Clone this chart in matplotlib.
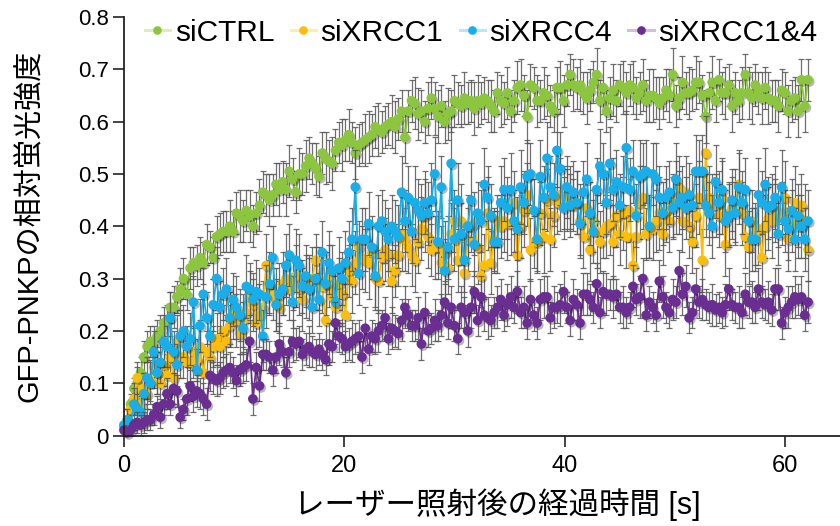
import numpy as np
import matplotlib
matplotlib.use("Agg")
import matplotlib.pyplot as plt
import matplotlib.patheffects as pe
from matplotlib.lines import Line2D

# ---- data: relative GFP-PNKP fluorescence after laser micro-irradiation ----
frame_interval = 0.3  # seconds between frames

ctrl = [
    0.015, 0.03, 0.06, 0.09, 0.10, 0.12, 0.15, 0.17, 0.18, 0.18,
    0.19, 0.20, 0.215, 0.22, 0.245, 0.245, 0.265, 0.28, 0.30, 0.27,
    0.32, 0.33, 0.325, 0.34, 0.33, 0.365, 0.36, 0.34, 0.38, 0.385,
    0.39, 0.39, 0.40, 0.39, 0.425, 0.42, 0.41, 0.43, 0.42, 0.40,
    0.425, 0.44, 0.465, 0.46, 0.45, 0.46, 0.48, 0.47, 0.485, 0.47,
    0.505, 0.49, 0.465, 0.50, 0.50, 0.515, 0.53, 0.52, 0.51, 0.495,
    0.54, 0.53, 0.525, 0.52, 0.545, 0.56, 0.555, 0.565, 0.575, 0.56,
    0.54, 0.555, 0.56, 0.565, 0.57, 0.575, 0.59, 0.585, 0.58, 0.59,
    0.595, 0.60, 0.59, 0.605, 0.62, 0.57, 0.62, 0.64, 0.635, 0.615,
    0.62, 0.60, 0.625, 0.645, 0.625, 0.61, 0.63, 0.60, 0.615, 0.62,
    0.64, 0.635, 0.63, 0.645, 0.635, 0.64, 0.625, 0.64, 0.635, 0.645,
    0.64, 0.63, 0.62, 0.655, 0.64, 0.635, 0.655, 0.62, 0.64, 0.665,
    0.67, 0.65, 0.61, 0.67, 0.665, 0.64, 0.64, 0.655, 0.65, 0.63,
    0.62, 0.665, 0.665, 0.64, 0.67, 0.69, 0.67, 0.665, 0.67, 0.655,
    0.645, 0.66, 0.675, 0.69, 0.64, 0.665, 0.62, 0.645, 0.66, 0.64,
    0.67, 0.665, 0.655, 0.67, 0.665, 0.645, 0.655, 0.67, 0.64, 0.65,
    0.65, 0.645, 0.635, 0.645, 0.66, 0.65, 0.69, 0.63, 0.645, 0.675,
    0.655, 0.655, 0.66, 0.675, 0.675, 0.65, 0.61, 0.655, 0.675, 0.64,
    0.68, 0.655, 0.655, 0.67, 0.63, 0.655, 0.64, 0.655, 0.69, 0.655,
    0.645, 0.67, 0.655, 0.645, 0.665, 0.645, 0.64, 0.64, 0.63, 0.66,
    0.655, 0.62, 0.64, 0.645, 0.62, 0.68, 0.63, 0.68,
]

xrcc1 = [
    0.02, 0.03, 0.05, 0.07, 0.11, 0.06, 0.09, 0.08, 0.105, 0.13,
    0.12, 0.10, 0.135, 0.115, 0.15, 0.11, 0.18, 0.15, 0.15, 0.14,
    0.14, 0.16, 0.145, 0.17, 0.12, 0.16, 0.15, 0.17, 0.185, 0.17,
    0.20, 0.18, 0.21, 0.235, 0.22, 0.195, 0.22, 0.235, 0.265, 0.25,
    0.215, 0.23, 0.245, 0.325, 0.285, 0.27, 0.26, 0.245, 0.29, 0.30,
    0.28, 0.29, 0.305, 0.28, 0.26, 0.285, 0.295, 0.30, 0.335, 0.30,
    0.285, 0.22, 0.305, 0.265, 0.245, 0.29, 0.27, 0.23, 0.315, 0.295,
    0.33, 0.36, 0.34, 0.335, 0.33, 0.35, 0.30, 0.295, 0.34, 0.355,
    0.345, 0.295, 0.315, 0.345, 0.385, 0.375, 0.36, 0.345, 0.335, 0.37,
    0.395, 0.42, 0.38, 0.355, 0.36, 0.36, 0.33, 0.35, 0.32, 0.385,
    0.41, 0.335, 0.41, 0.31, 0.375, 0.40, 0.405, 0.36, 0.305, 0.325,
    0.425, 0.33, 0.375, 0.41, 0.40, 0.41, 0.405, 0.405, 0.445, 0.345,
    0.40, 0.43, 0.46, 0.355, 0.37, 0.37, 0.425, 0.38, 0.45, 0.375,
    0.42, 0.445, 0.46, 0.455, 0.45, 0.455, 0.44, 0.445, 0.41, 0.38,
    0.435, 0.355, 0.41, 0.39, 0.37, 0.39, 0.40, 0.405, 0.37, 0.42,
    0.385, 0.425, 0.38, 0.43, 0.325, 0.38, 0.445, 0.455, 0.385, 0.40,
    0.395, 0.41, 0.425, 0.385, 0.43, 0.41, 0.44, 0.455, 0.475, 0.41,
    0.465, 0.40, 0.37, 0.42, 0.455, 0.335, 0.54, 0.455, 0.44, 0.44,
    0.42, 0.455, 0.365, 0.425, 0.435, 0.44, 0.48, 0.425, 0.38, 0.36,
    0.41, 0.385, 0.395, 0.34, 0.40, 0.415, 0.41, 0.43, 0.42, 0.425,
    0.455, 0.375, 0.41, 0.445, 0.40, 0.44, 0.41, 0.355,
]

xrcc4 = [
    0.02, 0.03, 0.02, 0.06, 0.05, 0.045, 0.08, 0.11, 0.10, 0.16,
    0.12, 0.14, 0.18, 0.17, 0.225, 0.16, 0.135, 0.19, 0.20, 0.17,
    0.185, 0.255, 0.125, 0.21, 0.27, 0.225, 0.19, 0.25, 0.30, 0.245,
    0.27, 0.28, 0.225, 0.26, 0.245, 0.23, 0.205, 0.285, 0.28, 0.26,
    0.275, 0.27, 0.19, 0.265, 0.29, 0.34, 0.25, 0.27, 0.28, 0.325,
    0.345, 0.255, 0.335, 0.325, 0.285, 0.305, 0.28, 0.245, 0.30, 0.26,
    0.35, 0.29, 0.33, 0.315, 0.255, 0.32, 0.30, 0.33, 0.35, 0.375,
    0.475, 0.31, 0.375, 0.375, 0.405, 0.36, 0.305, 0.40, 0.41, 0.39,
    0.375, 0.40, 0.39, 0.38, 0.465, 0.41, 0.455, 0.39, 0.445, 0.43,
    0.42, 0.445, 0.425, 0.45, 0.50, 0.37, 0.475, 0.315, 0.36, 0.52,
    0.375, 0.45, 0.385, 0.335, 0.40, 0.45, 0.365, 0.425, 0.41, 0.48,
    0.455, 0.42, 0.37, 0.37, 0.445, 0.47, 0.435, 0.47, 0.41, 0.395,
    0.475, 0.445, 0.495, 0.50, 0.43, 0.375, 0.495, 0.455, 0.53, 0.475,
    0.46, 0.545, 0.51, 0.435, 0.475, 0.44, 0.465, 0.445, 0.405, 0.465,
    0.49, 0.425, 0.39, 0.47, 0.515, 0.50, 0.445, 0.52, 0.47, 0.485,
    0.44, 0.475, 0.55, 0.47, 0.505, 0.42, 0.495, 0.50, 0.505, 0.40,
    0.50, 0.49, 0.455, 0.425, 0.455, 0.465, 0.435, 0.49, 0.445, 0.455,
    0.435, 0.46, 0.44, 0.505, 0.505, 0.505, 0.44, 0.425, 0.40, 0.485,
    0.445, 0.47, 0.41, 0.42, 0.45, 0.425, 0.475, 0.445, 0.47, 0.41,
    0.375, 0.375, 0.46, 0.445, 0.48, 0.435, 0.44, 0.455, 0.385, 0.475,
    0.41, 0.395, 0.43, 0.375, 0.42, 0.40, 0.375, 0.41,
]

xrcc1_4 = [
    0.01, 0.005, 0.01, 0.02, 0.025, 0.02, 0.025, 0.03, 0.03, 0.04,
    0.055, 0.035, 0.06, 0.08, 0.06, 0.09, 0.085, 0.035, 0.05, 0.07,
    0.095, 0.075, 0.085, 0.08, 0.07, 0.06, 0.115, 0.11, 0.105, 0.11,
    0.12, 0.125, 0.13, 0.12, 0.105, 0.125, 0.13, 0.135, 0.18, 0.07,
    0.13, 0.095, 0.155, 0.155, 0.15, 0.125, 0.15, 0.175, 0.16, 0.12,
    0.16, 0.18, 0.175, 0.18, 0.155, 0.165, 0.17, 0.16, 0.155, 0.165,
    0.155, 0.145, 0.175, 0.17, 0.215, 0.19, 0.185, 0.17, 0.175, 0.18,
    0.185, 0.19, 0.15, 0.205, 0.165, 0.19, 0.185, 0.20, 0.21, 0.225,
    0.185, 0.205, 0.20, 0.195, 0.22, 0.245, 0.23, 0.21, 0.21, 0.225,
    0.175, 0.235, 0.20, 0.205, 0.22, 0.21, 0.23, 0.255, 0.215, 0.245,
    0.21, 0.185, 0.245, 0.235, 0.20, 0.245, 0.275, 0.22, 0.265, 0.23,
    0.225, 0.22, 0.235, 0.245, 0.26, 0.23, 0.25, 0.265, 0.245, 0.275,
    0.235, 0.245, 0.215, 0.26, 0.23, 0.215, 0.26, 0.265, 0.265, 0.225,
    0.245, 0.245, 0.25, 0.275, 0.245, 0.22, 0.26, 0.25, 0.215, 0.27,
    0.27, 0.26, 0.245, 0.29, 0.235, 0.275, 0.27, 0.27, 0.265, 0.27,
    0.245, 0.245, 0.235, 0.245, 0.285, 0.26, 0.265, 0.30, 0.23, 0.255,
    0.245, 0.23, 0.295, 0.265, 0.245, 0.235, 0.26, 0.255, 0.315, 0.27,
    0.285, 0.225, 0.235, 0.28, 0.255, 0.26, 0.25, 0.245, 0.25, 0.24,
    0.245, 0.235, 0.25, 0.28, 0.25, 0.245, 0.245, 0.235, 0.27, 0.255,
    0.255, 0.245, 0.28, 0.255, 0.25, 0.255, 0.24, 0.28, 0.28, 0.215,
    0.235, 0.245, 0.255, 0.265, 0.26, 0.265, 0.23, 0.255,
]

# standard errors, in units of 0.01
ctrl_err = [
    1, 2, 2, 2, 3, 3, 3, 3, 3, 3,
    3, 3, 3, 3, 3, 4, 3, 4, 4, 3,
    4, 3, 4, 4, 4, 4, 3, 4, 4, 4,
    4, 4, 5, 4, 4, 5, 4, 4, 5, 4,
    4, 5, 4, 4, 5, 4, 4, 5, 4, 5,
    5, 4, 4, 5, 4, 5, 4, 4, 5, 4,
    4, 5, 4, 5, 4, 4, 5, 4, 5, 4,
    5, 4, 4, 5, 5, 4, 4, 5, 4, 4,
    4, 5, 5, 4, 4, 5, 4, 4, 5, 5,
    4, 4, 5, 4, 5, 5, 4, 4, 5, 4,
    5, 4, 4, 5, 4, 4, 5, 5, 4, 4,
    4, 5, 4, 4, 5, 4, 5, 4, 4, 5,
    5, 4, 5, 4, 4, 5, 4, 5, 4, 4,
    4, 4, 5, 5, 4, 4, 5, 4, 5, 4,
    5, 4, 4, 5, 4, 5, 4, 4, 5, 4,
    4, 5, 4, 4, 5, 4, 4, 5, 4, 5,
    5, 4, 5, 4, 4, 5, 5, 4, 4, 5,
    4, 5, 4, 5, 4, 4, 5, 4, 5, 4,
    4, 4, 5, 4, 5, 4, 4, 5, 4, 5,
    5, 4, 4, 5, 4, 5, 4, 4, 5, 4,
    4, 5, 4, 4, 5, 4, 5, 4,
]

xrcc1_err = [
    1, 2, 2, 3, 3, 3, 3, 3, 4, 4,
    4, 3, 4, 4, 4, 3, 5, 4, 4, 4,
    4, 5, 4, 5, 4, 4, 5, 4, 5, 4,
    5, 5, 4, 5, 5, 4, 5, 5, 5, 5,
    5, 6, 5, 6, 5, 5, 6, 5, 6, 5,
    6, 5, 6, 5, 6, 6, 5, 6, 5, 6,
    5, 6, 6, 5, 6, 5, 6, 6, 5, 6,
    6, 5, 6, 6, 7, 5, 6, 6, 5, 6,
    6, 6, 5, 6, 7, 6, 5, 6, 6, 6,
    6, 7, 6, 5, 6, 6, 7, 6, 5, 6,
    6, 6, 7, 6, 6, 5, 6, 7, 6, 6,
    7, 6, 6, 5, 6, 6, 7, 6, 6, 6,
    6, 7, 6, 6, 5, 6, 6, 7, 6, 6,
    6, 6, 7, 6, 6, 6, 5, 6, 7, 6,
    6, 6, 6, 7, 6, 5, 6, 6, 7, 6,
    6, 7, 6, 6, 6, 6, 7, 6, 5, 6,
    6, 6, 7, 6, 6, 6, 6, 7, 6, 6,
    7, 6, 6, 6, 7, 6, 7, 6, 6, 6,
    6, 7, 6, 6, 6, 7, 6, 6, 6, 7,
    6, 6, 7, 6, 6, 6, 7, 6, 6, 6,
    7, 6, 6, 7, 6, 6, 7, 6,
]

xrcc4_err = [
    1, 2, 2, 3, 3, 3, 4, 4, 4, 4,
    4, 4, 5, 4, 5, 4, 4, 5, 5, 4,
    5, 5, 4, 5, 5, 5, 4, 5, 6, 5,
    5, 6, 5, 5, 6, 5, 5, 6, 5, 5,
    6, 5, 5, 6, 6, 6, 5, 6, 5, 6,
    6, 5, 6, 6, 5, 6, 6, 5, 6, 5,
    6, 6, 6, 5, 6, 6, 5, 6, 6, 6,
    7, 6, 6, 6, 6, 6, 6, 6, 6, 6,
    6, 6, 6, 6, 7, 6, 6, 6, 7, 6,
    6, 6, 6, 7, 7, 6, 6, 6, 6, 7,
    6, 7, 6, 6, 6, 7, 6, 6, 6, 7,
    6, 6, 6, 6, 7, 6, 6, 7, 6, 6,
    7, 6, 7, 6, 6, 6, 7, 6, 7, 6,
    6, 7, 7, 6, 6, 6, 6, 6, 6, 6,
    7, 6, 6, 6, 7, 6, 6, 7, 6, 6,
    6, 6, 7, 6, 6, 6, 7, 6, 6, 6,
    6, 7, 6, 6, 6, 6, 6, 7, 6, 6,
    6, 6, 6, 7, 6, 7, 6, 6, 6, 7,
    6, 6, 6, 6, 6, 6, 7, 6, 6, 6,
    6, 6, 7, 6, 7, 6, 6, 6, 6, 7,
    6, 6, 6, 6, 6, 6, 6, 6,
]

xrcc1_4_err = [
    1, 1, 1, 1, 2, 2, 2, 2, 2, 2,
    2, 2, 2, 3, 2, 3, 3, 2, 2, 3,
    3, 3, 3, 3, 3, 3, 3, 3, 3, 3,
    3, 3, 3, 3, 3, 3, 3, 3, 4, 3,
    3, 3, 3, 3, 3, 3, 3, 4, 3, 3,
    3, 4, 3, 3, 3, 3, 4, 3, 3, 3,
    3, 3, 4, 3, 4, 3, 3, 3, 3, 4,
    3, 3, 3, 4, 3, 3, 3, 4, 3, 4,
    3, 4, 3, 3, 4, 4, 3, 3, 3, 4,
    3, 4, 3, 3, 4, 3, 4, 4, 3, 4,
    3, 3, 4, 3, 3, 4, 4, 3, 4, 3,
    4, 3, 3, 4, 4, 3, 4, 4, 3, 4,
    3, 4, 3, 4, 3, 3, 4, 4, 4, 3,
    4, 3, 4, 4, 3, 3, 4, 3, 3, 4,
    4, 3, 3, 4, 3, 4, 4, 3, 4, 3,
    3, 4, 3, 3, 4, 3, 4, 4, 3, 3,
    3, 3, 4, 4, 3, 3, 4, 3, 4, 4,
    4, 3, 3, 4, 3, 4, 3, 3, 4, 3,
    3, 3, 4, 4, 3, 3, 4, 3, 4, 3,
    4, 3, 4, 3, 3, 4, 3, 4, 4, 3,
    3, 4, 3, 4, 3, 4, 3, 4,
]

labels = ["siCTRL", "siXRCC1", "siXRCC4", "siXRCC1&4"]
colors = ["#8cc63f", "#fcbd0b", "#17aee9", "#6a2d92"]
x_ticks = [0, 20, 40, 60]
y_ticks = [0, 0.1, 0.2, 0.3, 0.4, 0.5, 0.6, 0.7, 0.8]
y_tick_labels = ["0", "0.1", "0.2", "0.3", "0.4", "0.5", "0.6", "0.7", "0.8"]
x_label = "レーザー照射後の経過時間 [s]"
y_label = "GFP-PNKPの相対蛍光強度"

# ---- drawing ----
plt.rcParams["font.family"] = ["Liberation Sans", "Noto Sans CJK JP"]

time_s = np.arange(len(ctrl)) * frame_interval
values = [np.array(v) for v in (ctrl, xrcc1, xrcc4, xrcc1_4)]
errors = [np.array(e) / 100 for e in (ctrl_err, xrcc1_err, xrcc4_err, xrcc1_4_err)]

fig = plt.figure(figsize=(8.4, 5.26), dpi=100)
ax = fig.add_axes([124 / 840, 1 - 435.5 / 526, 716 / 840, 418.5 / 526])

shadow = [pe.SimplePatchShadow(offset=(1.2, -1.5), shadow_rgbFace="#000000", alpha=0.28),
          pe.Normal()]

for y, e, c in zip(values, errors, colors):
    ax.errorbar(time_s, y, yerr=e, fmt="none", ecolor="#555555",
                elinewidth=0.9, capsize=2.4, capthick=0.9, alpha=0.85)
    ax.plot(time_s, y, color=c, lw=1.3, solid_joinstyle="round")
    ax.plot(time_s, y, ls="none", marker="o", ms=7, mfc=c, mec=c, mew=0,
            path_effects=shadow, clip_on=False)

ax.set_xlim(0, 65)
ax.set_ylim(0, 0.8)
ax.set_xticks(x_ticks)
ax.set_xticklabels([str(v) for v in x_ticks], fontsize=17)
ax.set_yticks(y_ticks)
ax.set_yticklabels(y_tick_labels, fontsize=16)
ax.tick_params(axis="both", direction="out", length=8, width=1.2, color="#222222")
ax.tick_params(axis="x", pad=6)
ax.tick_params(axis="y", pad=3)
for side in ("top", "right"):
    ax.spines[side].set_visible(False)
for side in ("left", "bottom"):
    ax.spines[side].set_linewidth(1.3)
    ax.spines[side].set_color("#222222")

fig.text(497 / 840, 1 - 505 / 526, x_label, ha="center", va="center", fontsize=22)
fig.text(30 / 840, 1 - 226 / 526, y_label, ha="center", va="center",
         rotation=90, fontsize=21)

handles = []
for c in colors:
    line = Line2D([0], [0], color=c, alpha=0.3, lw=2.2)
    dot = Line2D([0], [0], ls="none", marker="o", ms=5.2, mfc=c, mec=c)
    handles.append((line, dot))
ax.legend(handles, labels, loc="center left", bbox_to_anchor=(0.029, 0.962),
          ncol=4, frameon=False, fontsize=21.5, handlelength=0.85,
          handletextpad=0.15, columnspacing=0.55, borderpad=0, borderaxespad=0)

fig.savefig("out.png", dpi=100)
